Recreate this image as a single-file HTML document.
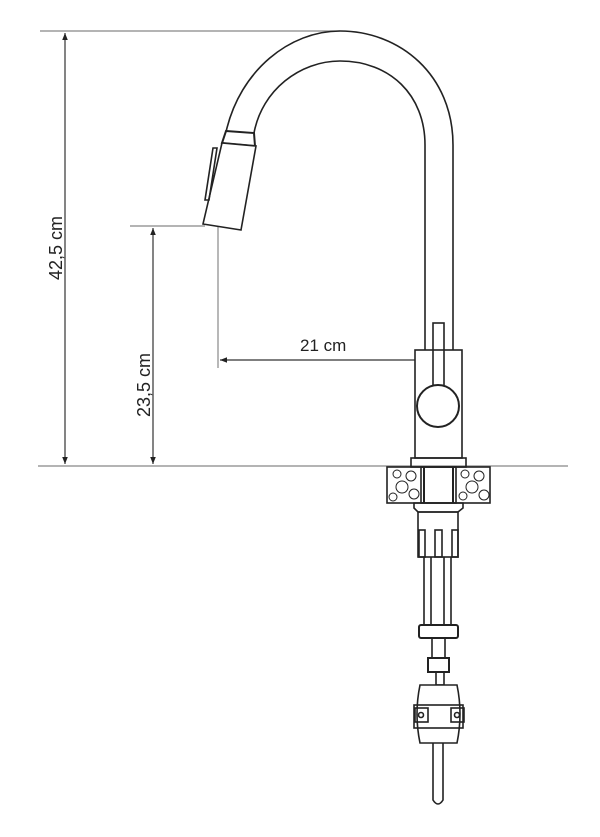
<!DOCTYPE html>
<html><head><meta charset="utf-8"><style>
html,body{margin:0;padding:0;background:#fff;width:600px;height:837px;overflow:hidden}
svg{display:block}
text{font-family:"Liberation Sans",sans-serif;font-size:17px;fill:#222}
</style></head><body>
<svg width="600" height="837" viewBox="0 0 600 837" xmlns="http://www.w3.org/2000/svg">
<defs>
<marker id="a" viewBox="0 0 10 10" refX="10" refY="5" markerWidth="6" markerHeight="8" orient="auto-start-reverse"><path d="M0,1 L10,5 L0,9z" fill="#222"/></marker>
</defs>
<g stroke="#888" stroke-width="1.2" fill="none">
<line x1="40" y1="31" x2="340" y2="31"/>
<line x1="38" y1="466" x2="568" y2="466"/>
<line x1="130" y1="226" x2="205" y2="226"/>
<line x1="218" y1="218" x2="218" y2="368"/>
</g>
<g stroke="#333" stroke-width="1.2" fill="none">
<line x1="65" y1="33" x2="65" y2="464" marker-start="url(#a)" marker-end="url(#a)"/>
<line x1="153" y1="228" x2="153" y2="464" marker-start="url(#a)" marker-end="url(#a)"/>
<line x1="220" y1="360" x2="433" y2="360" marker-start="url(#a)"/>
</g>
<text transform="translate(62,248) rotate(-90)" text-anchor="middle" style="font-size:18px">42,5 cm</text>
<text transform="translate(150,385) rotate(-90)" text-anchor="middle" style="font-size:18px">23,5 cm</text>
<text x="300" y="351">21 cm</text>
<g stroke="#222" stroke-width="1.6" fill="none">
<path d="M226,132 C240,70 290,31 340,31 C400,31 453,75 453,145 L453,350"/>
<path d="M254,133 C262,90 300,61 340,61 C390,61 425,95 425,145 L425,350"/>
<path d="M226,131 L254,133 L255,146 L222,143 Z" stroke-width="2"/>
<path d="M222,143 L256,146 L241,230 L203,224 Z" fill="#fff"/>
<path d="M213,148 L217,148 L209,200 L205,200 Z"/>
<rect x="433" y="323" width="11" height="62" fill="#fff"/>
<rect x="415" y="350" width="47" height="108" fill="#fff"/>
<line x1="433" y1="350" x2="433" y2="385"/><line x1="444" y1="350" x2="444" y2="385"/>
<circle cx="438" cy="406" r="21" fill="#fff" stroke-width="2"/>
<rect x="411" y="458" width="55" height="9"/>
<rect x="387" y="467" width="103" height="36"/>
<rect x="421" y="467" width="35" height="36"/>
<line x1="424" y1="467" x2="424" y2="503" stroke-width="2"/>
<line x1="453" y1="467" x2="453" y2="503" stroke-width="2"/>
<g stroke-width="1">
<circle cx="397" cy="474" r="4"/><circle cx="411" cy="476" r="5"/><circle cx="402" cy="487" r="6"/><circle cx="414" cy="494" r="5"/><circle cx="393" cy="497" r="4"/>
<circle cx="465" cy="474" r="4"/><circle cx="479" cy="476" r="5"/><circle cx="472" cy="487" r="6"/><circle cx="484" cy="495" r="5"/><circle cx="463" cy="496" r="4"/>
</g>
<path d="M414,503 L463,503 L463,508 L458,512 L418,512 L414,508 Z"/>
<rect x="418" y="512" width="40" height="45"/>
<rect x="419" y="530" width="6" height="27"/><rect x="435" y="530" width="7" height="27"/><rect x="452" y="530" width="6" height="27"/>
<line x1="424" y1="557" x2="424" y2="625"/><line x1="431" y1="557" x2="431" y2="625"/>
<line x1="444" y1="557" x2="444" y2="625"/><line x1="451" y1="557" x2="451" y2="625"/>
<rect x="419" y="625" width="39" height="13" rx="2" stroke-width="2"/>
<rect x="432" y="638" width="13" height="20"/>
<rect x="428" y="658" width="21" height="14" stroke-width="2"/>
<rect x="436" y="672" width="8" height="13"/>
<path d="M420,685 L457,685 Q463,714 457,743 L420,743 Q414,714 420,685 Z" fill="#fff"/>
<rect x="414" y="705" width="49" height="23"/>
<rect x="415" y="708" width="13" height="14"/><circle cx="421" cy="715" r="2.5"/>
<rect x="451" y="708" width="13" height="14"/><circle cx="457" cy="715" r="2.5"/>
<path d="M433,743 L433,800 Q438,808 443,800 L443,743"/>
</g>
</svg>
</body></html>
